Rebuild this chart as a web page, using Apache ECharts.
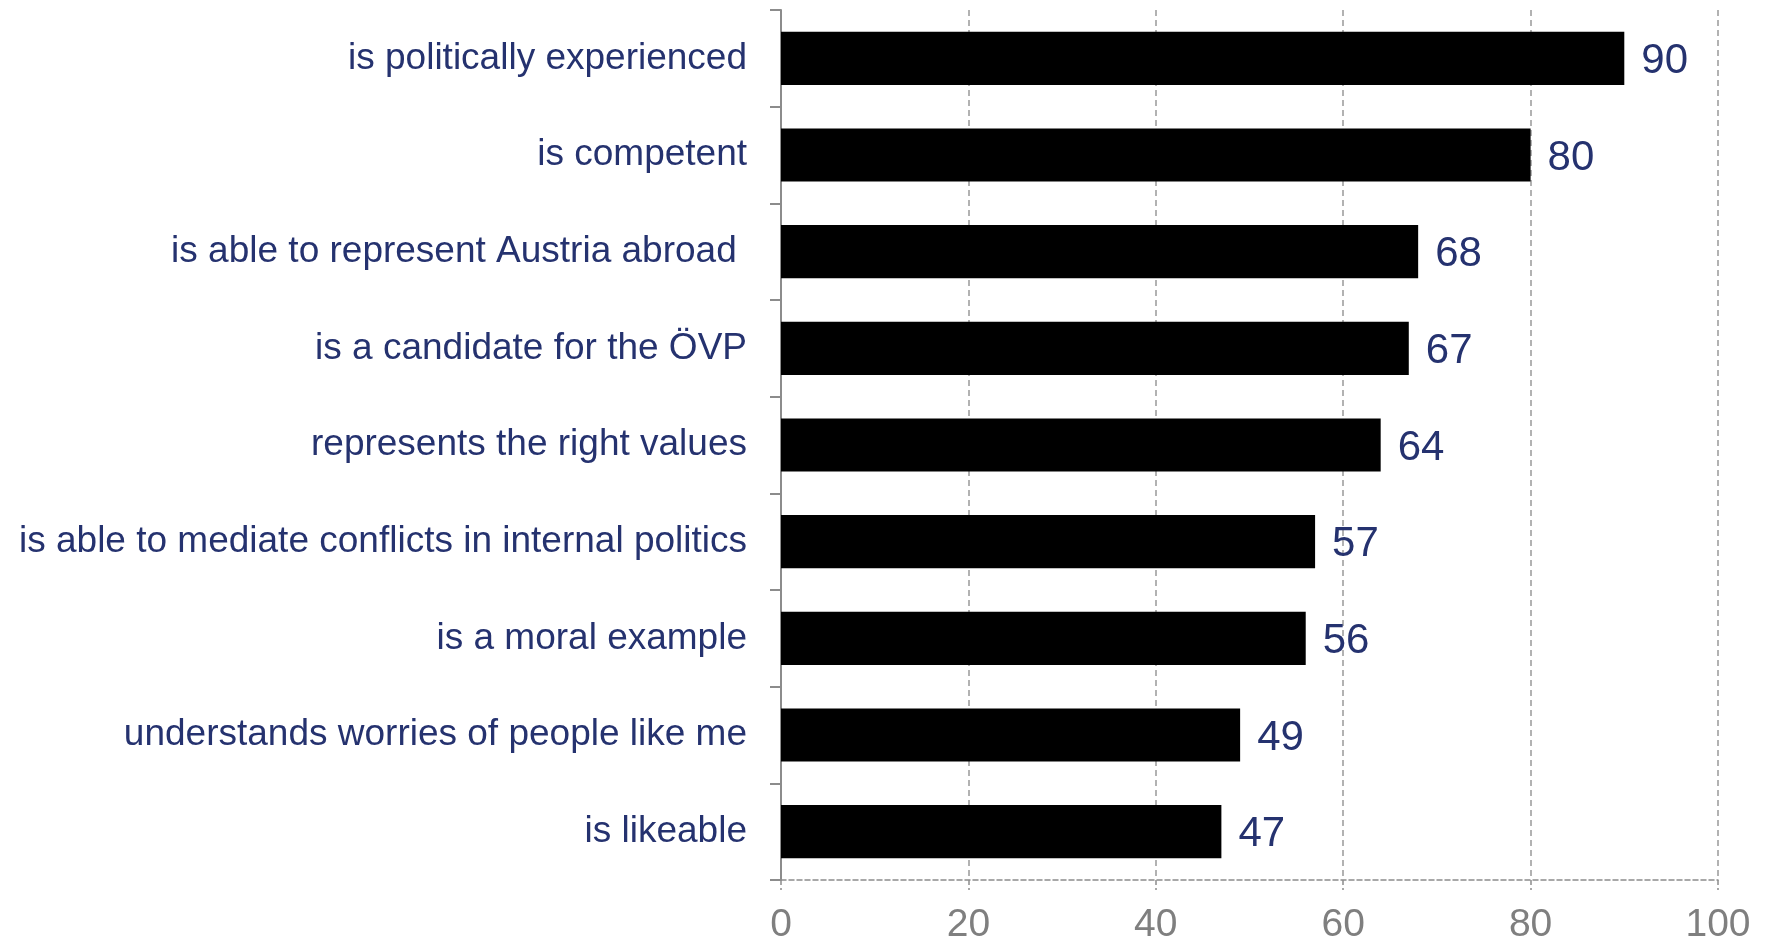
<!DOCTYPE html>
<html>
<head>
<meta charset="utf-8">
<script src="https://cdn.jsdelivr.net/npm/echarts@6/dist/echarts.min.js"></script>
<style>
  html, body { margin: 0; padding: 0; background: #fff; }
  #chart { width: 1767px; height: 941px; }
</style>
</head>
<body>
<div id="chart"></div>
<script>
// categories, top to bottom
const categories = [
  'is politically experienced',
  'is competent',
  'is able to represent Austria abroad ',
  'is a candidate for the ÖVP',
  'represents the right values',
  'is able to mediate conflicts in internal politics',
  'is a moral example',
  'understands worries of people like me',
  'is likeable'
];
const values = [90, 80, 68, 67, 64, 57, 56, 49, 47];
const xTicks = [0, 20, 40, 60, 80, 100];

const navy = '#25326f';
const grey = '#8c8c8c';

let chart = echarts.init(document.getElementById('chart'));

let option = {
  animation: false,
  backgroundColor: '#fff',
  textStyle: { fontFamily: 'Liberation Sans' },
  grid: { left: 781, right: 49, top: 10, bottom: 61, containLabel: false, outerBoundsMode: 'none' },
  xAxis: {
    type: 'value',
    min: xTicks[0],
    max: xTicks[xTicks.length - 1],
    interval: 20,
    axisLine: { show: true, lineStyle: { color: grey, width: 1.5, type: [5, 3] } },
    axisTick: { show: true, length: 10, lineStyle: { color: grey, width: 1.5, type: [5, 3] } },
    axisLabel: { color: '#7f7f7f', fontSize: 39, margin: 26 },
    splitLine: { show: true, lineStyle: { color: '#999', width: 1.5, type: [6, 4] } }
  },
  yAxis: {
    type: 'category',
    data: categories,
    inverse: true,
    axisLine: { show: true, lineStyle: { color: grey, width: 2 } },
    axisTick: { show: true, length: 11, lineStyle: { color: grey, width: 2 } },
    axisLabel: { color: navy, fontSize: 37, margin: 34, padding: [3, 0, 0, 0] },
    splitLine: { show: false }
  },
  series: [{
    type: 'bar',
    data: values,
    barCategoryGap: '45%',
    itemStyle: { color: '#000' },
    label: {
      show: true,
      position: 'right',
      distance: 17,
      offset: [0, 3],
      color: navy,
      fontSize: 42
    }
  }]
};

chart.setOption(option);
</script>
</body>
</html>
